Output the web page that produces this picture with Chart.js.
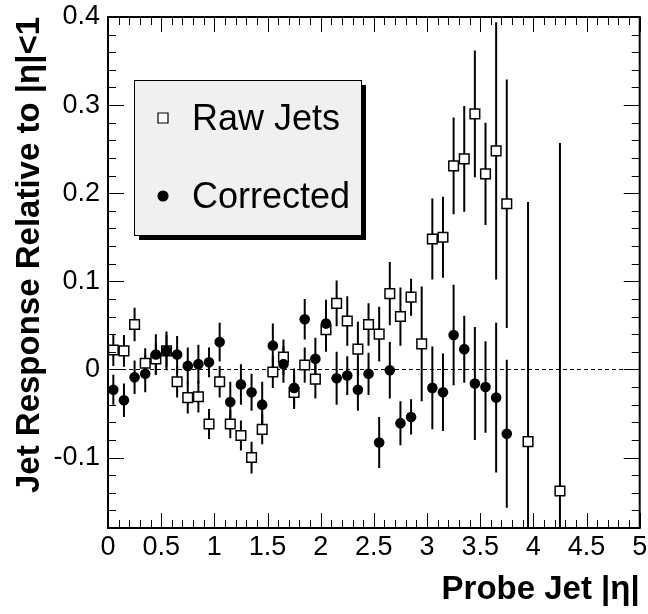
<!DOCTYPE html>
<html>
<head>
<meta charset="utf-8">
<script src="https://cdn.jsdelivr.net/npm/chart.js@4.4.0/dist/chart.umd.min.js"></script>
<style>
  html, body { margin: 0; padding: 0; background: #fff; }
  #wrap { width: 648px; height: 614px; }
</style>
</head>
<body>
<div id="wrap"><canvas id="jetChart" width="648" height="614"></canvas></div>
<script>
// --- Data ---

// Raw jets: bin centre in |eta|, response relative to |eta|<1, error
const rawEta = [0.05, 0.15, 0.25, 0.35, 0.45, 0.55, 0.65, 0.75, 0.85, 0.95,
                1.05, 1.15, 1.25, 1.35, 1.45, 1.55, 1.65, 1.75, 1.85, 1.95,
                2.05, 2.15, 2.25, 2.35, 2.45, 2.55, 2.65, 2.75, 2.85, 2.95,
                3.05, 3.15, 3.25, 3.35, 3.45, 3.55, 3.65, 3.75, 3.95, 4.25];
const rawResp = [0.022, 0.021, 0.051, 0.007, 0.012, 0.021, -0.014, -0.032, -0.031, -0.062,
                 -0.014, -0.062, -0.075, -0.100, -0.068, -0.003, 0.014, -0.026, 0.005, -0.011,
                 0.045, 0.075, 0.055, 0.023, 0.051, 0.040, 0.086, 0.060, 0.082, 0.029,
                 0.148, 0.150, 0.231, 0.239, 0.290, 0.222, 0.248, 0.188, -0.082, -0.138];
const rawErr = [0.018, 0.018, 0.019, 0.017, 0.018, 0.018, 0.018, 0.018, 0.018, 0.017,
                0.018, 0.016, 0.017, 0.018, 0.017, 0.018, 0.020, 0.019, 0.020, 0.022,
                0.025, 0.026, 0.028, 0.031, 0.024, 0.031, 0.036, 0.033, 0.021, 0.065,
                0.046, 0.046, 0.055, 0.060, 0.072, 0.058, 0.146, 0.141, 0.272, 0.395];

// Corrected jets
const corrEta = [0.05, 0.15, 0.25, 0.35, 0.45, 0.55, 0.65, 0.75, 0.85, 0.95,
                 1.05, 1.15, 1.25, 1.35, 1.45, 1.55, 1.65, 1.75, 1.85, 1.95,
                 2.05, 2.15, 2.25, 2.35, 2.45, 2.55, 2.65, 2.75, 2.85,
                 3.05, 3.15, 3.25, 3.35, 3.45, 3.55, 3.65, 3.75];
const corrResp = [-0.023, -0.035, -0.009, -0.005, 0.017, 0.021, 0.017, 0.004, 0.006, 0.008,
                  0.031, -0.037, -0.017, -0.026, -0.040, 0.027, 0.006, -0.021, 0.057, 0.012,
                  0.052, -0.010, -0.007, -0.023, -0.005, -0.083, -0.001, -0.061, -0.054,
                  -0.021, -0.026, 0.039, 0.023, -0.016, -0.020, -0.032, -0.073];
const corrErr = [0.017, 0.019, 0.019, 0.021, 0.023, 0.022, 0.021, 0.021, 0.022, 0.017,
                 0.022, 0.023, 0.023, 0.021, 0.026, 0.025, 0.021, 0.022, 0.023, 0.024,
                 0.027, 0.030, 0.022, 0.024, 0.024, 0.029, 0.032, 0.025, 0.020,
                 0.047, 0.044, 0.057, 0.038, 0.064, 0.052, 0.085, 0.084];

const seriesLabels = ['Raw Jets', 'Corrected'];
const xTitle = 'Probe Jet |\u03b7|';
const yTitle = 'Jet Response Relative to |\u03b7|<1';

const FONT = '"Liberation Sans", Arial, Helvetica, sans-serif';

// --- Helpers ---

function toPoints(xs, ys) {
    return xs.map((x, i) => ({ x: x, y: ys[i] }));
}

// 1.0 -> "1", 0.5 -> "0.5"
function tickLabel(val) {
    return parseFloat(val.toFixed(2)).toString();
}

function line(ctx, x1, y1, x2, y2) {
    ctx.beginPath();
    ctx.moveTo(x1, y1);
    ctx.lineTo(x2, y2);
    ctx.stroke();
}

// keep the plot frame where it is, labels may hang over the edges
function noOverhang(scale) {
    scale.paddingLeft = 0;
    scale.paddingRight = 0;
    scale.paddingTop = 0;
    scale.paddingBottom = 0;
}

// error bars, zero line, frame, inner ticks and the shadowed legend box
const rootStyle = {
    id: 'rootStyle',
    beforeDatasetsDraw(chart) {
        const ctx = chart.ctx;
        const area = chart.chartArea;
        const xs = chart.scales.x, ys = chart.scales.y;

        ctx.save();
        ctx.beginPath();
        ctx.rect(area.left, area.top, area.right - area.left, area.bottom - area.top);
        ctx.clip();

        // dashed line at zero
        ctx.strokeStyle = '#000';
        ctx.lineWidth = 1;
        ctx.setLineDash([4, 3]);
        const y0 = Math.round(ys.getPixelForValue(0)) + 0.5;
        line(ctx, area.left, y0, area.right, y0);
        ctx.setLineDash([]);

        // vertical error bars
        ctx.lineWidth = 2;
        const errs = [rawErr, corrErr];
        chart.data.datasets.forEach((ds, d) => {
            ds.data.forEach((p, i) => {
                const px = xs.getPixelForValue(p.x);
                line(ctx, px, ys.getPixelForValue(p.y + errs[d][i]), px, ys.getPixelForValue(p.y - errs[d][i]));
            });
        });
        ctx.restore();
    },
    afterDraw(chart) {
        const ctx = chart.ctx;
        const area = chart.chartArea;
        const xs = chart.scales.x, ys = chart.scales.y;

        ctx.save();
        ctx.strokeStyle = '#000';

        // ticks on all four sides, pointing inwards
        ctx.lineWidth = 1;
        for (let i = 0; i <= 50; i++) {
            const px = Math.round(xs.getPixelForValue(i / 10)) + 0.5;
            const len = i % 5 === 0 ? 15 : 8;
            line(ctx, px, area.bottom, px, area.bottom - len);
            line(ctx, px, area.top, px, area.top + len);
        }
        for (let i = -9; i <= 20; i++) {
            const py = Math.round(ys.getPixelForValue(i * 0.02)) + 0.5;
            const len = i % 5 === 0 ? 16 : 8;
            line(ctx, area.left, py, area.left + len, py);
            line(ctx, area.right, py, area.right - len, py);
        }

        // frame
        ctx.lineWidth = 2;
        ctx.strokeRect(area.left, area.top, area.right - area.left, area.bottom - area.top);

        // legend box with drop shadow
        const lx = area.left + 26, ly = area.top + 63, lw = 227, lh = 155;
        ctx.fillStyle = '#000';
        ctx.fillRect(lx + 5, ly + 5, lw, lh);
        ctx.fillStyle = '#f0f0f0';
        ctx.fillRect(lx, ly, lw, lh);
        ctx.lineWidth = 1;
        ctx.strokeRect(lx + 0.5, ly + 0.5, lw, lh);

        ctx.font = '36px ' + FONT;
        ctx.textBaseline = 'alphabetic';
        ctx.textAlign = 'left';
        const rows = [ly + 39, ly + 117];
        chart.data.datasets.forEach((ds, d) => {
            const cy = rows[d];
            ctx.fillStyle = ds.pointBackgroundColor;
            ctx.strokeStyle = '#000';
            ctx.lineWidth = 1.2;
            ctx.beginPath();
            if (ds.pointStyle === 'rect') {
                ctx.rect(lx + 29 - 5, cy - 6, 10, 10);
            } else {
                ctx.arc(lx + 29, cy - 1, 5, 0, Math.PI * 2);
            }
            ctx.fill();
            ctx.stroke();
            ctx.fillStyle = '#000';
            ctx.fillText(ds.label, lx + 58, cy + 11);
        });
        ctx.restore();
    }
};

// --- Chart ---

const ctx = document.getElementById('jetChart').getContext('2d');

new Chart(ctx, {
    type: 'scatter',
    data: {
        datasets: [{
            label: seriesLabels[0],
            data: toPoints(rawEta, rawResp),
            pointStyle: 'rect',
            pointRadius: 6.8,
            pointHoverRadius: 6.8,
            pointBackgroundColor: '#fff',
            pointBorderColor: '#000',
            pointBorderWidth: 1.5,
            order: 2
        }, {
            label: seriesLabels[1],
            data: toPoints(corrEta, corrResp),
            pointStyle: 'circle',
            pointRadius: 5.3,
            pointHoverRadius: 5.3,
            pointBackgroundColor: '#000',
            pointBorderColor: '#000',
            pointBorderWidth: 0,
            order: 1
        }]
    },
    options: {
        responsive: false,
        animation: false,
        events: [],
        layout: { padding: { top: 17, right: 8, left: 0, bottom: 0 } },
        plugins: {
            legend: { display: false },
            tooltip: { enabled: false }
        },
        scales: {
            x: {
                type: 'linear',
                min: 0,
                max: 5,
                grid: { display: false, drawTicks: false },
                border: { display: false },
                ticks: {
                    stepSize: 0.5,
                    autoSkip: false,
                    maxRotation: 0,
                    padding: 3,
                    color: '#000',
                    font: { family: FONT, size: 27 },
                    callback: tickLabel
                },
                title: {
                    display: true,
                    text: xTitle,
                    align: 'end',
                    color: '#000',
                    font: { family: FONT, size: 33, weight: 'bold' },
                    padding: { top: 0, bottom: 4 }
                },
                afterFit(scale) {
                    scale.height = 86;
                    noOverhang(scale);
                }
            },
            y: {
                type: 'linear',
                min: -0.18,
                max: 0.4,
                grid: { display: false, drawTicks: false },
                border: { display: false },
                ticks: {
                    stepSize: 0.1,
                    includeBounds: false,
                    padding: 8,
                    color: '#000',
                    font: { family: FONT, size: 27 },
                    callback: tickLabel
                },
                title: {
                    display: true,
                    text: yTitle,
                    align: 'end',
                    color: '#000',
                    font: { family: FONT, size: 33, weight: 'bold' },
                    padding: { top: 10, bottom: 0 }
                },
                afterFit(scale) {
                    scale.width = 108;
                    noOverhang(scale);
                }
            }
        }
    },
    plugins: [rootStyle]
});
</script>
</body>
</html>
